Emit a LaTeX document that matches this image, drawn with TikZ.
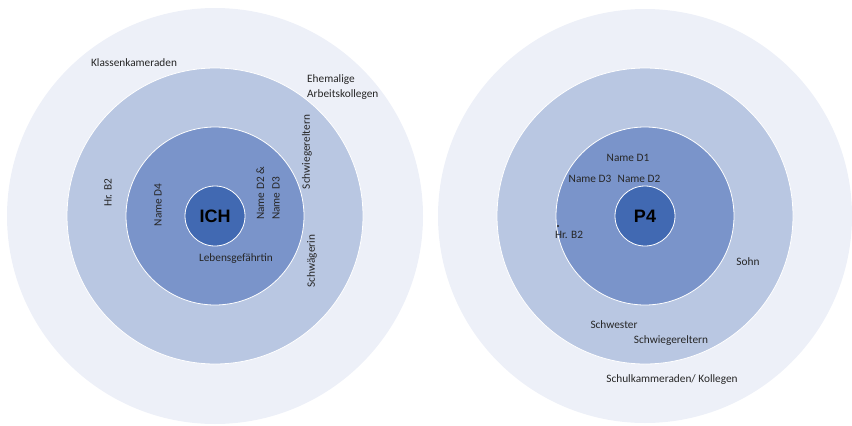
\documentclass[tikz,border=0pt]{standalone}
\usepackage{fontspec}
\setmainfont{Carlito}
\newfontfamily\corefont{Liberation Sans}
\usepackage{tikz}
\usetikzlibrary{positioning}
\definecolor{ringA}{RGB}{237,240,248}
\definecolor{ringB}{RGB}{185,199,226}
\definecolor{ringC}{RGB}{122,148,202}
\definecolor{ringD}{RGB}{65,105,178}
\definecolor{labeltext}{RGB}{38,38,38}
\tikzset{
    ring/.style={circle, inner sep=0pt, draw=white, line width=0.8pt},
    core/.style={circle, inner sep=0pt, draw=white, line width=0.8pt, fill=ringD, minimum size=60pt, font=\corefont\fontsize{18}{20}\selectfont\bfseries, text=black},
    person/.style={text=labeltext, font=\fontsize{11.3}{15.5}\selectfont, inner sep=0pt, align=left},
    uprot/.style={person, rotate=90}
}
\begin{document}
\begin{tikzpicture}[x=1pt, y=-1pt]
    \useasboundingbox (0,0) rectangle (852,426);
    % Left circles
    \node[ring, fill=ringA, draw=none, minimum size=416pt] (outerL) at (215,216) {};
    \node[ring, fill=ringB, minimum size=296pt] (midL) at (215,216) {};
    \node[ring, fill=ringC, minimum size=178pt] (innerL) at (215,216) {};
    \node[core] (ich) at (215,216) {ICH};
    % Right circles
    \node[ring, fill=ringA, draw=none, minimum size=414pt] (outerR) at (645,216) {};
    \node[ring, fill=ringB, minimum size=296pt] (midR) at (645,216) {};
    \node[ring, fill=ringC, minimum size=178pt] (innerR) at (645,216) {};
    \node[core] (pfour) at (645,216) {P4};
    % Left labels
    \node[person] (klasse) at (134,63) {Klassenkameraden};
    \node[person, anchor=west] (arbeit) at (307,87) {Ehemalige\\Arbeitskollegen};
    \node[uprot] (schwiegerL) at (307,152) {Schwiegereltern};
    \node[uprot] (hrbL) at (108,193) {Hr. B2};
    \node[uprot] (dfour) at (158,205) {Name D4};
    \node[uprot, anchor=west] (dtwothree) at (268,220) {Name D2 \&\\Name D3};
    \node[uprot] (schwaegerin) at (312,261) {Schwägerin};
    \node[person] (partner) at (236,259) {Lebensgefährtin};
    % Right labels
    \node[person] (done) at (628,158) {Name D1};
    \node[person] (dthree) at (590,179) {Name D3};
    \node[person] (dtwo) at (639,179) {Name D2};
    \node[person] (hrbR) at (569,235) {Hr. B2};
    \fill[labeltext] (558,226) circle (1.2pt);
    \node[person] (sohn) at (748,262) {Sohn};
    \node[person] (schwester) at (614,325) {Schwester};
    \node[person] (schwiegerR) at (671,341) {Schwiegereltern};
    \node[person] (schule) at (672,380) {Schulkammeraden/ Kollegen};
\end{tikzpicture}
\end{document}
